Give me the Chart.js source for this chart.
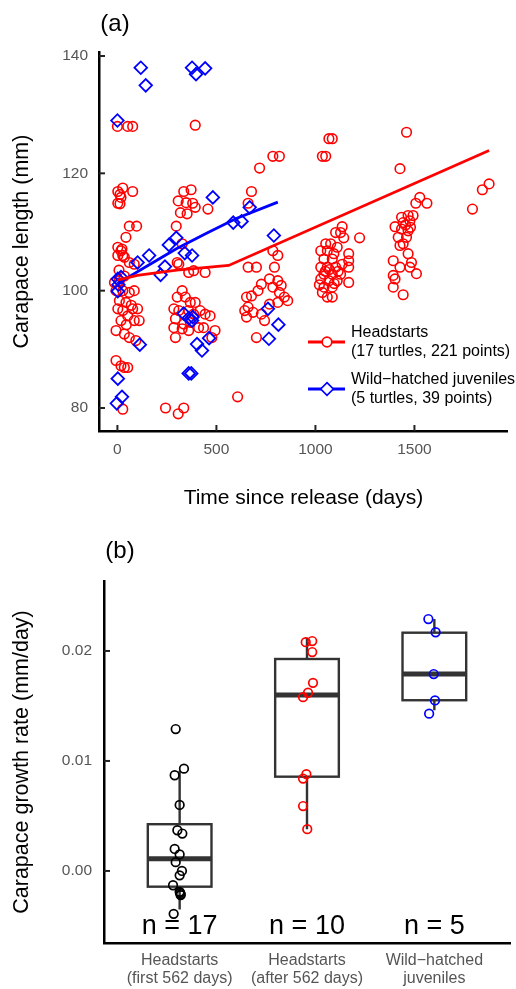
<!DOCTYPE html>
<html>
<head>
<meta charset="utf-8">
<script src="https://cdn.jsdelivr.net/npm/chart.js@4.4.0/dist/chart.umd.min.js"></script>
<style>
  body { margin: 0; background: #fff; }
  canvas { display: block; }
</style>
</head>
<body>
<canvas id="lengthChart" width="516" height="520"></canvas>
<canvas id="rateChart" width="516" height="469"></canvas>
<script>
// (a) carapace length against time since release
const headDays = [
  0, 52, 77, 2, 27, 13, 18, 2, 13, 77, 60, 97, 43, 18, 2, 27, 60, 85, 2, 23, 35,
  -15, 10, -7, 27, 60, 85, 10, 43, 77, 102, 2, 27, 52, 85, 110, 18, -7, 35, 60, 93,
  -7, 18, 35, 52, 27, 35, 70, 45, 8,
  393, 335, 372, 307, 347, 380, 393, 318, 352, 457, 297, 302, 327, 310, 360, 385, 443,
  327, 302, 343, 368, 393, 285, 310, 360, 385, 418, 443, 468, 293, 335, 368, 410, 435,
  285, 327, 360, 493, 293, 477, 243, 307, 335,
  785, 818, 718, 677, 660, 660, 702, 785, 810, 793, 727, 768, 810, 785, 827, 818, 843,
  860, 710, 677, 652, 660, 643, 685, 727, 768, 810, 743, 702, 652, 607,
  1068, 1085, 1035, 1052, 1223, 1135, 1102, 1127, 1143, 1052, 1077, 1110, 1027, 1060,
  1093, 1168, 1043, 1085, 1168, 1135, 1027, 1060, 1102, 1168, 1043, 1085, 1127, 1027,
  1068, 1110, 1168, 1043, 1085, 1035, 1060, 1085, 1050, 1070, 1095, 1020, 1115,
  1460, 1427, 1527, 1507, 1563, 1435, 1468, 1493, 1443, 1477, 1402, 1435, 1468, 1418,
  1460, 1443, 1427, 1468, 1393, 1485, 1427, 1477, 1510, 1393, 1402, 1393, 1443, 1455, 1480,
  1877, 1843, 1793
];
const headLength = [
  128, 128, 128, 116.9, 117.5, 116.4, 115.9, 114.9, 114.8, 116.9, 111, 111, 109.1, 106.8, 106, 106, 104.8, 104.5, 107.4, 107.1, 105.7,
  101.4, 101.7, 100, 100, 99.7, 100, 98.3, 98, 96.9, 96.9, 96.9, 96.6, 95.7, 94.9, 94.9, 94.9, 93.2, 92.6, 92, 91.5,
  88.1, 87.2, 86.9, 86.9, 79.8, 102.5, 97.5, 94.2, 103.5,
  128.2, 116.9, 117.2, 115.3, 115, 114.9, 114.2, 113.3, 113.1, 113.9, 111, 104.8, 108, 104.5, 103.1, 103.4, 103.1,
  100, 98.9, 98.9, 98, 98, 96.9, 96.6, 96.6, 96, 96.6, 96, 95.7, 95.2, 94.3, 94.6, 93.7, 93.7,
  93.7, 93.5, 93.2, 93.2, 92, 92, 80, 79, 80,
  122.9, 122.9, 120.9, 116.9, 114.9, 104, 104, 106.8, 106, 104, 101.1, 102, 101.7, 100.6, 100.9, 99.7, 98.9,
  98.3, 100, 99.1, 98.9, 97.2, 96.6, 96.3, 96, 97.7, 98, 94.9, 92, 95.5, 81.9,
  125.9, 125.9, 122.9, 122.9, 109, 110.9, 109.9, 109.9, 109, 108, 108, 107.4, 106.8, 106.8,
  106.3, 106.3, 105.4, 105.4, 105.1, 104.5, 104, 104, 104, 104, 102.8, 102.8, 102.8, 102,
  101.7, 101.7, 101.4, 100.6, 100.6, 99.7, 98.9, 98.9, 103.3, 103.6, 101.2, 101, 103.3,
  127, 120.8, 115.9, 114.9, 114.9, 112.5, 112.8, 112.8, 111.6, 111.9, 110.9, 110.5, 110.2, 109.1,
  109.1, 108, 107.7, 106.3, 105.1, 104.8, 104, 104, 102.9, 102.6, 102, 100.6, 99.3, 111.2, 110.8,
  118.2, 117.2, 113.9
];
const wildDays = [
  118, 143, 0, 377, 397, 443, 482, 585, 627, 668, 790, 760, 813, 765,
  2, 18, 2, 102, 160, 260, 297, 240, 218, 340, 377,
  335, 360, 377, 113, 402, 427, 463, 360, 373, 2, 23, -3, 5, 380
];
const wildLength = [
  138, 135, 129, 138, 136.9, 137.9, 115.9, 111.6, 111.8, 114.2, 109.4, 96.9, 94.2, 91.8,
  102, 102.3, 99.9, 104.8, 106, 107.8, 109, 104.1, 102.7, 106.4, 106,
  96.1, 95.3, 94.9, 90.8, 90.9, 89.8, 91.9, 85.9, 85.9, 85, 81.9, 80.8, 101, 95.5
];
const headFitDays = [0, 100, 300, 562, 1877];
const headFitLength = [101.8, 102.6, 103.5, 104.3, 123.9];
const wildFitDays = [0, 150, 300, 450, 600, 810];
const wildFitLength = [101.2, 104.2, 107.2, 109.8, 112.3, 115.1];
const dayTicks = [0, 500, 1000, 1500];
const lengthTicks = [80, 100, 120, 140];
const legendLabels = [
  ['Headstarts', '(17 turtles, 221 points)'],
  ['Wild\u2212hatched juveniles', '(5 turtles, 39 points)']
];

// (b) growth rate per group
const groupLabels = [
  ['Headstarts', '(first 562 days)'],
  ['Headstarts', '(after 562 days)'],
  ['Wild\u2212hatched', 'juveniles']
];
const groupN = ['n = 17', 'n = 10', 'n = 5'];
const rateEarly = [0.0129, 0.0093, 0.0087, 0.0060, 0.0037, 0.0034, 0.0020, 0.0015, 0.0008, 0.0000, -0.0004, -0.0013, -0.0019, -0.0021, -0.0022, -0.0020, -0.0039];
const jitterEarly = [-0.031, 0.034, -0.039, 0, -0.018, 0.021, -0.039, 0, -0.031, 0.018, 0, -0.052, 0, 0.008, 0.008, 0.004, -0.047];
const rateLate = [0.0208, 0.0209, 0.0199, 0.0171, 0.0162, 0.0158, 0.0084, 0.0088, 0.0059, 0.0038];
const jitterLate = [-0.010, 0.041, 0.041, 0.047, 0.008, -0.031, -0.031, -0.005, -0.031, 0.002];
const rateWild = [0.0229, 0.0217, 0.0179, 0.0155, 0.0143];
const jitterWild = [-0.047, 0.010, -0.005, 0.005, -0.041];
const whiskerLow = [-0.0035, 0.0038, 0.0146];
const boxQ1 = [-0.00143, 0.00857, 0.01552];
const boxMedian = [0.00112, 0.0160, 0.0179];
const boxQ3 = [0.00425, 0.01927, 0.02166];
const whiskerHigh = [0.0091, 0.0212, 0.0229];
const rateTicks = [0, 0.01, 0.02];

const FONT = "'Liberation Sans', Arial, Helvetica, sans-serif";
Chart.defaults.font.family = FONT;
Chart.defaults.animation = false;

const toXY = (xs, ys) => xs.map((v, i) => ({x: v, y: ys[i]}));
const groupXY = (g, rates, jit) => rates.map((v, i) => ({x: g + jit[i], y: v}));

// R style ticks pointing into the plot
const inwardTicks = {
  id: 'inwardTicks',
  afterDatasetsDraw(chart, args, opts) {
    const {ctx, chartArea} = chart;
    ctx.save();
    ctx.strokeStyle = '#222';
    ctx.lineWidth = 2;
    opts.axes.forEach(id => {
      const scale = chart.scales[id];
      scale.ticks.forEach(t => {
        const p = scale.getPixelForValue(t.value);
        ctx.beginPath();
        if (scale.isHorizontal()) {
          ctx.moveTo(p, chartArea.bottom);
          ctx.lineTo(p, chartArea.bottom - opts.length);
        } else {
          ctx.moveTo(chartArea.left, p);
          ctx.lineTo(chartArea.left + opts.length, p);
        }
        ctx.stroke();
      });
    });
    ctx.restore();
  }
};

const panelLabel = {
  id: 'panelLabel',
  afterDraw(chart, args, opts) {
    const ctx = chart.ctx;
    ctx.save();
    ctx.font = '24px ' + FONT;
    ctx.fillStyle = '#000';
    ctx.textAlign = 'center';
    ctx.textBaseline = 'middle';
    ctx.fillText(opts.text, opts.x, opts.y);
    ctx.restore();
  }
};

const lengthLegend = {
  id: 'lengthLegend',
  afterDraw(chart) {
    const ctx = chart.ctx;
    const rows = [
      {ds: chart.data.datasets[0], y: 342, style: 'circle'},
      {ds: chart.data.datasets[1], y: 389, style: 'rectRot'}
    ];
    ctx.save();
    rows.forEach((r, i) => {
      ctx.strokeStyle = r.ds.borderColor;
      ctx.lineWidth = 2.8;
      ctx.beginPath();
      ctx.moveTo(308, r.y);
      ctx.lineTo(345, r.y);
      ctx.stroke();
      ctx.fillStyle = '#fff';
      ctx.lineWidth = 1.7;
      ctx.beginPath();
      if (r.style === 'circle') {
        ctx.arc(327, r.y, 4.8, 0, Math.PI * 2);
      } else {
        ctx.moveTo(327, r.y - 6.3); ctx.lineTo(333.3, r.y); ctx.lineTo(327, r.y + 6.3); ctx.lineTo(320.7, r.y); ctx.closePath();
      }
      ctx.fill();
      ctx.stroke();
      ctx.fillStyle = '#000';
      ctx.font = '16px ' + FONT;
      ctx.textBaseline = 'middle';
      ctx.fillText(legendLabels[i][0], 351, r.y - 9.5);
      ctx.fillText(legendLabels[i][1], 351, r.y + 9.5);
    });
    ctx.restore();
  }
};

new Chart(document.getElementById('lengthChart'), {
  type: 'scatter',
  data: {
    datasets: [
      {
        type: 'line', data: toXY(headFitDays, headFitLength), borderColor: '#ff0000',
        borderWidth: 2.8, pointRadius: 0, fill: false, order: 0
      },
      {
        type: 'line', data: toXY(wildFitDays, wildFitLength), borderColor: '#0000ff',
        borderWidth: 2.8, pointRadius: 0, fill: false, order: 1
      },
      {
        data: toXY(wildDays, wildLength), borderColor: '#0000ff', backgroundColor: 'rgba(0,0,0,0)',
        pointStyle: 'rectRot', pointRadius: 6.3, borderWidth: 1.8, order: 2
      },
      {
        data: toXY(headDays, headLength), borderColor: '#ff0000', backgroundColor: 'rgba(0,0,0,0)',
        pointStyle: 'circle', pointRadius: 4.8, borderWidth: 1.6, order: 3
      }
    ]
  },
  options: {
    responsive: false,
    events: [],
    layout: {padding: {top: 52, right: 4, left: 0, bottom: 0}},
    plugins: {
      legend: {display: false},
      tooltip: {enabled: false},
      inwardTicks: {axes: ['x', 'y'], length: 6},
      panelLabel: {text: '(a)', x: 115, y: 24}
    },
    scales: {
      x: {
        type: 'linear', min: -93, max: 1972,
        afterBuildTicks: s => { s.ticks = dayTicks.map(v => ({value: v})); },
        afterFit: s => { s.height = 89; },
        grid: {display: false, drawTicks: false},
        border: {display: true, color: '#000', width: 2.5},
        ticks: {color: '#555', font: {size: 15.5}, padding: 9, callback: v => String(v)},
        title: {display: true, text: 'Time since release (days)', color: '#000', font: {size: 21}, padding: {top: 0, bottom: 9}}
      },
      y: {
        type: 'linear', min: 76.08, max: 140.68,
        afterBuildTicks: s => { s.ticks = lengthTicks.map(v => ({value: v})); },
        afterFit: s => { s.width = 99; },
        grid: {display: false, drawTicks: false},
        border: {display: true, color: '#000', width: 2.5},
        ticks: {color: '#555', font: {size: 15.5}, padding: 11, callback: v => String(v)},
        title: {display: true, text: 'Carapace length (mm)', color: '#000', font: {size: 21.5}, padding: {top: 9, bottom: 0}}
      }
    }
  },
  plugins: [inwardTicks, panelLabel, lengthLegend]
});

const boxes = {
  id: 'boxes',
  beforeDatasetsDraw(chart, args, opts) {
    const {ctx, scales: {x, y}} = chart;
    ctx.save();
    ctx.strokeStyle = '#333';
    for (let i = 0; i < boxMedian.length; i++) {
      const cx = x.getPixelForValue(i + 1);
      const half = x.getPixelForValue(i + 1 + opts.width / 2) - cx;
      ctx.lineWidth = 2.4;
      ctx.beginPath();
      ctx.moveTo(cx, y.getPixelForValue(boxQ3[i]));
      ctx.lineTo(cx, y.getPixelForValue(whiskerHigh[i]));
      ctx.moveTo(cx, y.getPixelForValue(boxQ1[i]));
      ctx.lineTo(cx, y.getPixelForValue(whiskerLow[i]));
      ctx.stroke();
      const top = y.getPixelForValue(boxQ3[i]);
      const bot = y.getPixelForValue(boxQ1[i]);
      ctx.strokeRect(cx - half, top, half * 2, bot - top);
      ctx.lineWidth = 5;
      ctx.beginPath();
      const m = y.getPixelForValue(boxMedian[i]);
      ctx.moveTo(cx - half, m);
      ctx.lineTo(cx + half, m);
      ctx.stroke();
    }
    ctx.restore();
  },
  afterDraw(chart) {
    const {ctx, chartArea, scales: {x}} = chart;
    ctx.save();
    ctx.font = '27px ' + FONT;
    ctx.fillStyle = '#000';
    ctx.textAlign = 'center';
    ctx.textBaseline = 'middle';
    groupN.forEach((t, i) => ctx.fillText(t, x.getPixelForValue(i + 1), chartArea.bottom - 16));
    ctx.restore();
  }
};

const ratePoint = {backgroundColor: 'rgba(0,0,0,0)', pointStyle: 'circle', pointRadius: 4.3, borderWidth: 1.7};

new Chart(document.getElementById('rateChart'), {
  type: 'scatter',
  data: {
    datasets: [
      Object.assign({data: groupXY(1, rateEarly, jitterEarly), borderColor: '#000000'}, ratePoint),
      Object.assign({data: groupXY(2, rateLate, jitterLate), borderColor: '#ff0000'}, ratePoint),
      Object.assign({data: groupXY(3, rateWild, jitterWild), borderColor: '#0000ff'}, ratePoint)
    ]
  },
  options: {
    responsive: false,
    events: [],
    layout: {padding: {top: 61, right: 4, left: 0, bottom: 0}},
    plugins: {
      legend: {display: false},
      tooltip: {enabled: false},
      inwardTicks: {axes: ['y'], length: 6},
      panelLabel: {text: '(b)', x: 120, y: 31},
      boxes: {width: 0.5}
    },
    scales: {
      x: {
        type: 'linear', min: 0.406, max: 3.594,
        afterBuildTicks: s => { s.ticks = groupLabels.map((l, i) => ({value: i + 1})); },
        afterFit: s => { s.height = 46; },
        grid: {display: false, drawTicks: false},
        border: {display: true, color: '#000', width: 2.5},
        ticks: {
          color: '#555', font: {size: 16, lineHeight: 1.1}, padding: 9,
          callback: v => groupLabels[Math.round(v) - 1]
        }
      },
      y: {
        type: 'linear', min: -0.00655, max: 0.02636,
        afterBuildTicks: s => { s.ticks = rateTicks.map(v => ({value: v})); },
        afterFit: s => { s.width = 104; },
        grid: {display: false, drawTicks: false},
        border: {display: true, color: '#000', width: 2.5},
        ticks: {color: '#555', font: {size: 15.5}, padding: 12, callback: v => v.toFixed(2)},
        title: {display: true, text: 'Carapace growth rate (mm/day)', color: '#000', font: {size: 21.5}, padding: {top: 9, bottom: 0}}
      }
    }
  },
  plugins: [inwardTicks, panelLabel, boxes]
});
</script>
</body>
</html>
